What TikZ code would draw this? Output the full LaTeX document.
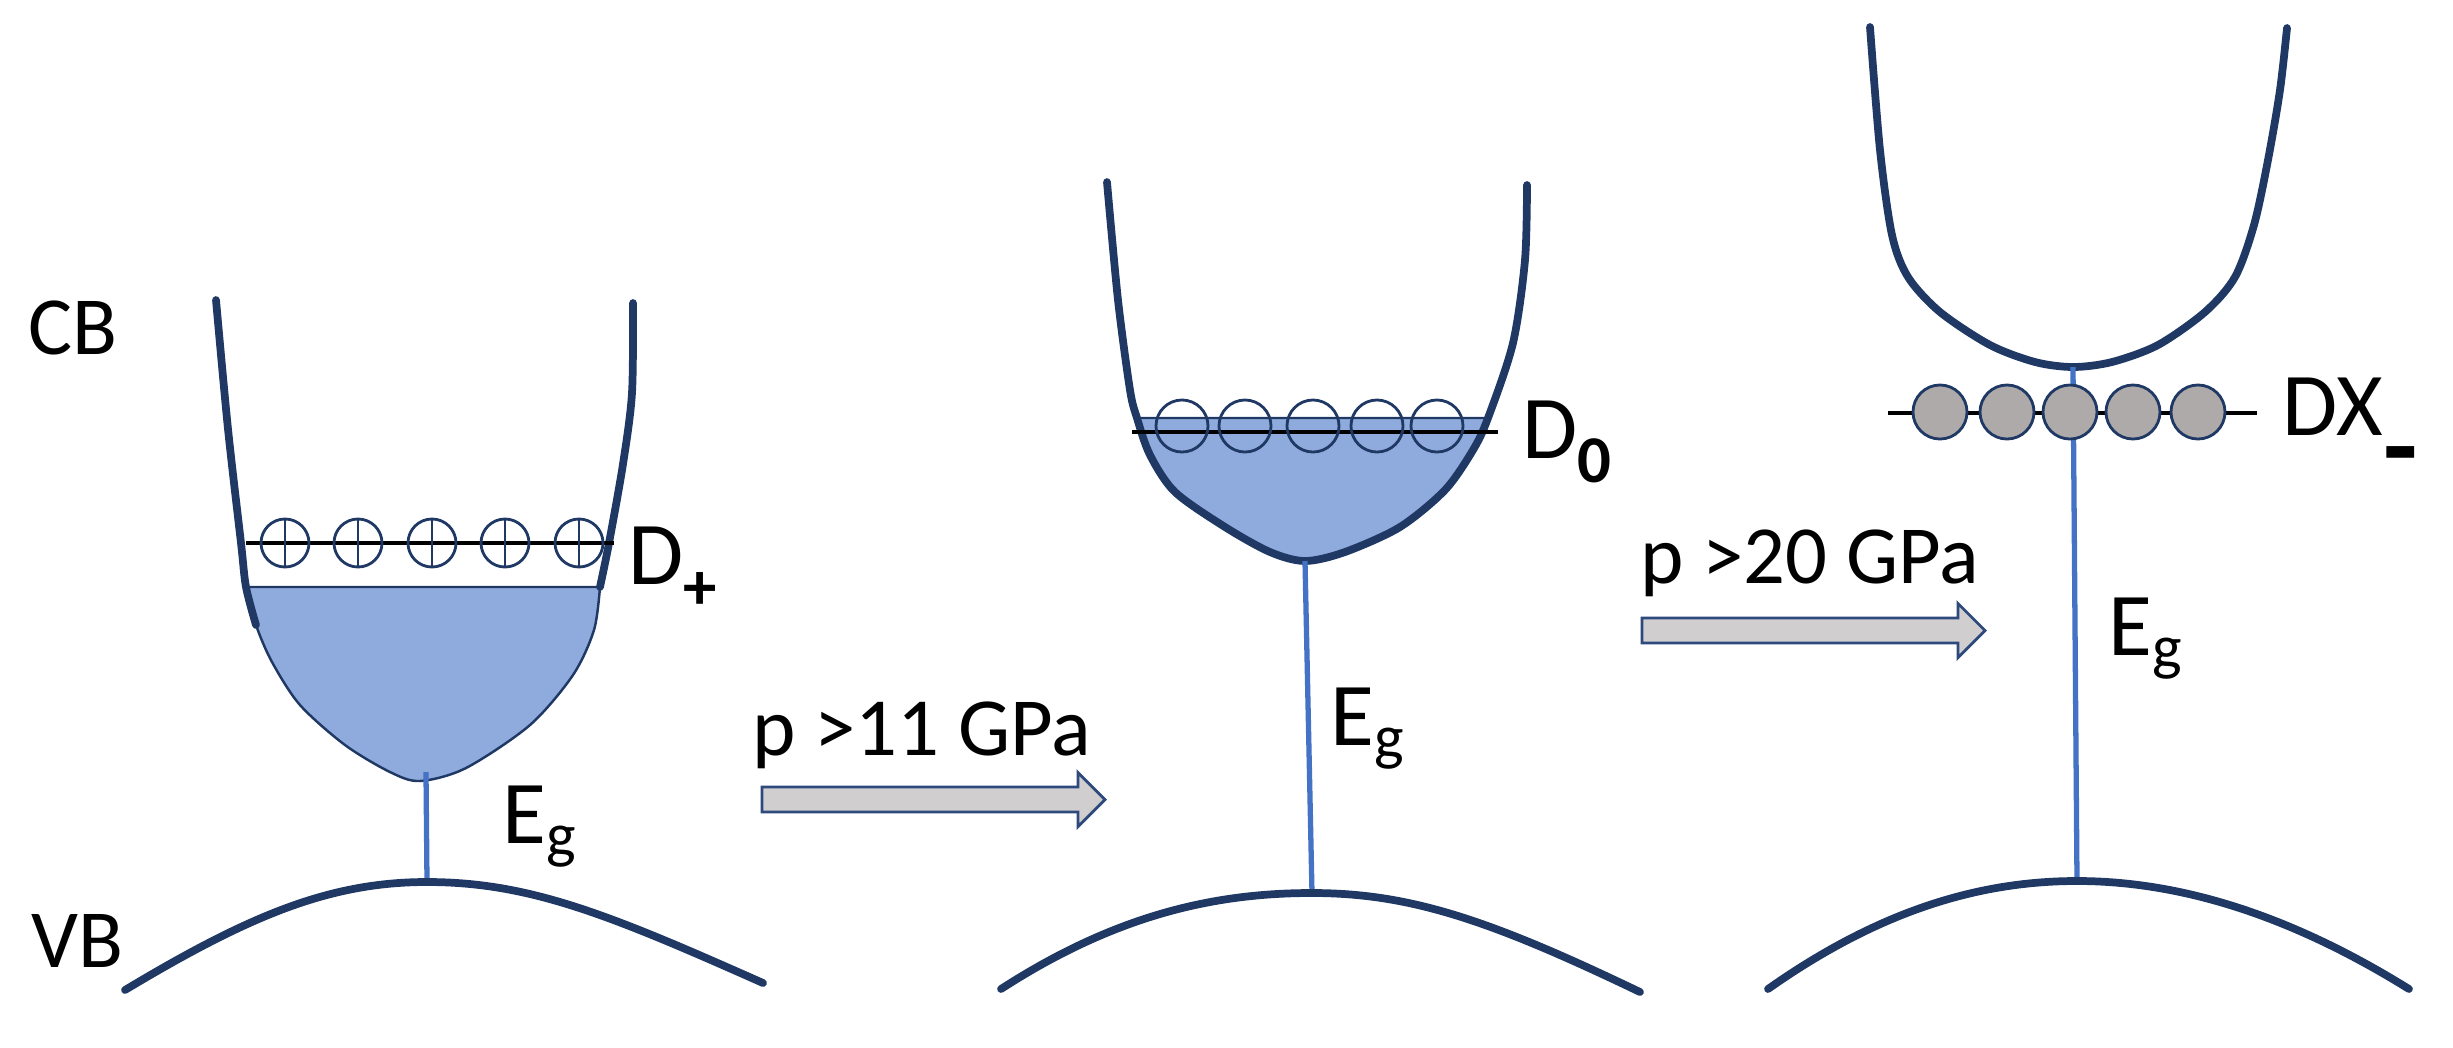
\documentclass[tikz,border=0pt]{standalone}
\usepackage{fontspec}
\setmainfont{Carlito}
\usetikzlibrary{calc}
\definecolor{bandline}{HTML}{1F3864}
\definecolor{bandfill}{HTML}{8FAADC}
\definecolor{gapblue}{HTML}{4472C4}
\definecolor{dxgray}{HTML}{AEAAAA}
\definecolor{arrowgray}{HTML}{D0CECE}
\definecolor{arrowline}{HTML}{2E4A7D}
\newcommand{\lowsub}[3]{\raisebox{#1}{\fontsize{#2}{#2}\selectfont\bfseries #3}}
\tikzset{
  band/.style={bandline,line width=2.2pt,line cap=round},
  filled/.style={fill=bandfill,draw=bandline,line width=0.7pt},
  level/.style={black,line width=1.4pt},
  gapline/.style={gapblue,line width=1.5pt},
  donor/.style={draw=bandline,line width=0.8pt},
  pressarrow/.style={fill=arrowgray,draw=arrowline,line width=0.8pt},
  lbl/.style={font=\fontsize{23.5pt}{28pt}\selectfont,inner sep=0pt,anchor=base west},
  biglbl/.style={font=\fontsize{25.5pt}{30pt}\selectfont,inner sep=0pt,anchor=base west}
}

\begin{document}
\begin{tikzpicture}[x=0.01cm,y=-0.01cm]
  \useasboundingbox (0,0) rectangle (2453,1047);

  % panel 1: D+ below the conduction band minimum
  \draw[filled] plot[smooth] coordinates {(246,587) (256,625) (272,662) (300,705) (345,745) (390,772)
    (420,781) (466,768) (530,725) (573,675) (594,630) (600,587)} -- cycle;
  \draw[band] plot[smooth] coordinates {(216,300) (228,429) (241,543) (246,587) (256,625)};
  \draw[band] plot[smooth] coordinates {(633,303) (632,393) (623,464) (609,543) (600,587)};
  \coordinate (cbmin1) at (426,772);
  \coordinate (vbmax1) at (427,882);
  \draw[gapline] (cbmin1) -- (vbmax1);
  \draw[band] (125,990) .. controls (250,915) and (330,882) .. (vbmax1)
    .. controls (530,882) and (610,915) .. (763,983);
  \draw[level] (246,543) -- (614,543);
  \foreach \cx in {285,358,432,505,579} {
    \draw[donor] (\cx,543) circle[radius=0.24cm];
    \draw[donor] (\cx,519) -- (\cx,567);
  }
  \node[lbl] (cb) at (28,354) {CB};
  \node[lbl] (vb) at (31,967) {VB};
  \node[biglbl] (dplus) at (628,584) {D\lowsub{-0.28em}{19pt}{+}};
  \node[biglbl] (eg1) at (502,843) {E\textsubscript{g}};

  % pressure arrows
  \foreach \ax/\ay in {762/799.5,1642/630.5}
    \draw[pressarrow] (\ax,\ay) ++(0,-12.5) -- ++(316,0) -- ++(0,-14.5) -- ++(27,27)
      -- ++(-27,27) -- ++(0,-14.5) -- ++(-316,0) -- cycle;
  \node[lbl] (p11) at (752,755) {p >11 GPa};
  \node[lbl] (p20) at (1640,583) {p >20 GPa};

  % panel 2: neutral donor D0
  \draw[filled] plot[smooth] coordinates {(1137,418) (1150,455) (1175,492) (1225,527) (1270,552)
    (1305,561) (1345,552) (1400,527) (1445,490) (1473,450) (1488,418)} -- cycle;
  \draw[band] plot[smooth] coordinates {(1107,182) (1118,300) (1130,390) (1137,418) (1150,455)
    (1175,492) (1225,527) (1270,552) (1305,561) (1345,552) (1400,527) (1445,490) (1473,450)
    (1488,418) (1513,343) (1525,260) (1527,185)};
  \coordinate (cbmin2) at (1305,561);
  \coordinate (vbmax2) at (1312,893);
  \draw[gapline] (cbmin2) -- (vbmax2);
  \draw[band] (1001,989) .. controls (1120,912) and (1220,893) .. (vbmax2)
    .. controls (1410,893) and (1490,920) .. (1640,992);
  \draw[level] (1132,432) -- (1498,432);
  \foreach \cx in {1182,1245,1313,1377,1437}
    \draw[donor] (\cx,426) circle[radius=0.26cm];
  \node[biglbl] (dzero) at (1522,458) {D\lowsub{-7pt}{19pt}{0}};
  \node[biglbl] (eg2) at (1330,745) {E\textsubscript{g}};

  % panel 3: DX- level inside the gap
  \draw[band] plot[smooth] coordinates {(1870,27) (1880,150) (1892,235) (1908,277) (1940,312)
    (1990,345) (2035,362) (2073,367) (2112,362) (2158,345) (2205,312) (2235,277) (2254,225)
    (2268,160) (2280,90) (2287,28)};
  \coordinate (cbmin3) at (2073,367);
  \coordinate (vbmax3) at (2077,881);
  \draw[gapline] (cbmin3) -- (vbmax3);
  \draw[band] (1768,989) .. controls (1880,910) and (1980,881) .. (vbmax3)
    .. controls (2180,881) and (2290,915) .. (2409,989);
  \draw[level] (1888,413) -- (2257,413);
  \foreach \cx in {1940,2007,2070,2133,2198}
    \draw[donor,fill=dxgray] (\cx,412) circle[radius=0.27cm];
  \node[biglbl] (dxminus) at (2282,435) {DX\lowsub{-14pt}{32pt}{-}};
  \node[biglbl] (eg3) at (2108,655) {E\textsubscript{g}};
\end{tikzpicture}
\end{document}
